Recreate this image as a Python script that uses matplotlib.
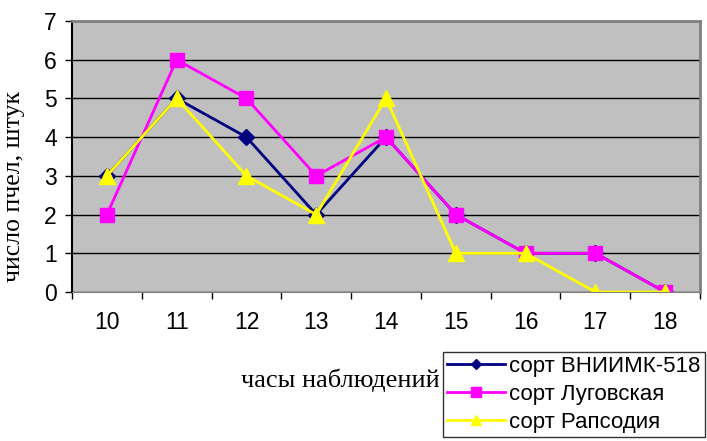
import matplotlib
matplotlib.use("Agg")
from matplotlib import pyplot as plt

# часы наблюдений и число пчёл по сортам
hours = ['10', '11', '12', '13', '14', '15', '16', '17', '18']
vniimk = [3, 5, 4, 2, 4, 2, 1, 1, 0]
lugovskaya = [2, 6, 5, 3, 4, 2, 1, 1, 0]
rapsodiya = [3, 5, 3, 2, 5, 1, 1, 0, 0]

fig = plt.figure(figsize=(7.07, 4.41), dpi=100)
ax = fig.add_axes([72 / 707, 149 / 441, 628 / 707, 271 / 441])
ax.set_facecolor('#c0c0c0')

xs = [i + 0.5 for i in range(len(hours))]
ax.plot(xs, vniimk, color='#000080', marker='D', markersize=8, linewidth=2, label='сорт ВНИИМК-518')
ax.plot(xs, lugovskaya, color='#ff00ff', marker='s', markersize=10, linewidth=2, label='сорт Луговская')
ax.plot(xs, rapsodiya, color='#ffff00', marker='^', markersize=11, linewidth=2, label='сорт Рапсодия')

ax.set_xlim(0, len(hours))
ax.set_ylim(0, 7)
ax.set_yticks(range(8))
ax.set_xticks(range(len(hours) + 1))
ax.set_xticklabels([])
for x, h in zip(xs, hours):
    ax.text(x, -0.48, h, ha='center', va='top', fontsize=16.5, family='Liberation Sans')
ax.set_yticklabels([str(i) for i in range(8)], fontsize=16.5, family='Liberation Sans')
ax.tick_params(direction='out', length=5, width=1, color='black', pad=6)
ax.yaxis.grid(True, color='black', linewidth=1)
ax.set_axisbelow(True)

for s in ['top', 'right']:
    ax.spines[s].set_color('#808080')
    ax.spines[s].set_linewidth(2)
ax.spines['bottom'].set_color('#808080')
ax.spines['left'].set_color('black')
ax.spines['left'].set_linewidth(1.5)

ax.set_ylabel('число пчел, штук', fontsize=18.5, family='Liberation Serif')
ax.yaxis.set_label_coords(-0.075, 0.39)
fig.text(340 / 707, 1 - 380 / 441, 'часы наблюдений', ha='center', va='center',
         fontsize=19, family='Liberation Serif')

leg = fig.legend(loc='lower right', bbox_to_anchor=(705 / 707, 4 / 441), frameon=True,
                 fancybox=False, edgecolor='black', prop={'family': 'Liberation Sans', 'size': 16},
                 handlelength=2.6, borderpad=0.2, labelspacing=0.3, handletextpad=0.2,
                 borderaxespad=0, markerscale=0.7)
leg.get_frame().set_linewidth(1)

fig.savefig('out.png', dpi=100)
